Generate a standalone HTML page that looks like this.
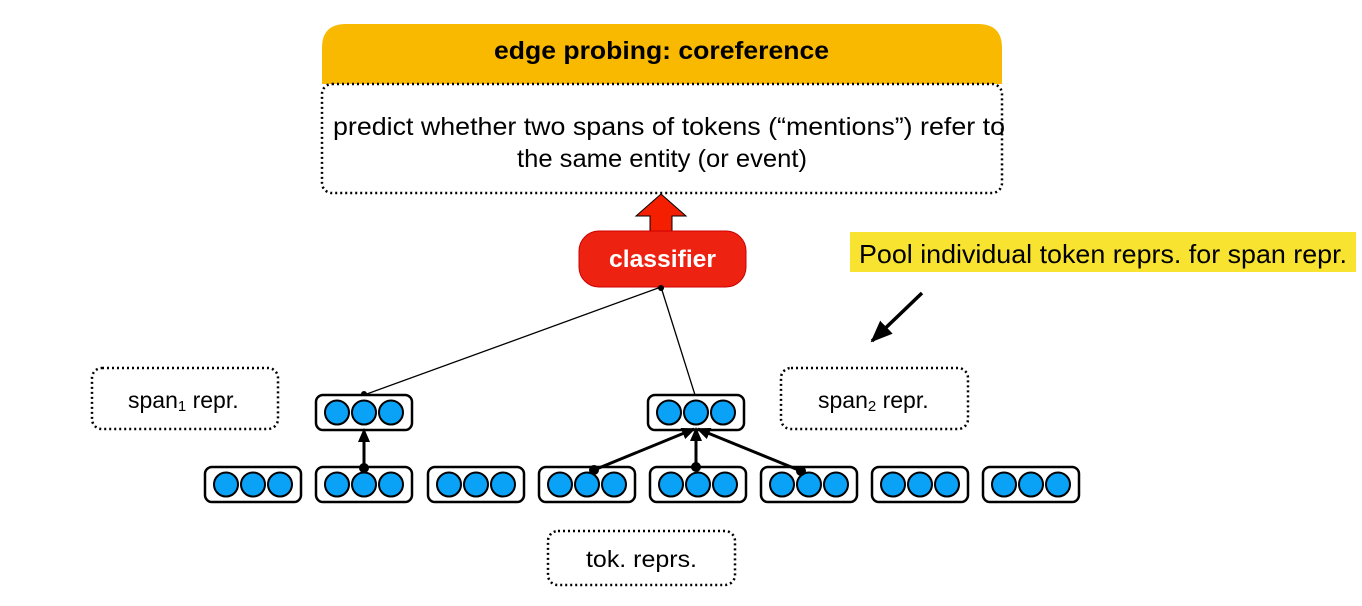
<!DOCTYPE html>
<html><head><meta charset="utf-8"><style>
body{margin:0;background:#fff;}
svg{display:block;font-family:"Liberation Sans",sans-serif;}
</style></head><body>
<svg width="1362" height="606" viewBox="0 0 1362 606" xmlns="http://www.w3.org/2000/svg">
<defs>
<marker id="ahb" markerWidth="14" markerHeight="12" refX="12" refY="6" orient="auto" markerUnits="userSpaceOnUse"><path d="M0,0 L14,6 L0,12 z" fill="#000"/></marker>
<marker id="ahc" markerWidth="22" markerHeight="18" refX="20" refY="9" orient="auto" markerUnits="userSpaceOnUse"><path d="M0,0 L22,9 L0,18 z" fill="#000"/></marker>
<g id="tok">
<rect x="0" y="0" width="96" height="35" rx="7" fill="#fff" stroke="#000" stroke-width="2.5"/>
<circle cx="21" cy="17.5" r="12" fill="#0aa2f7" stroke="#000" stroke-width="2"/>
<circle cx="48" cy="17.5" r="12" fill="#0aa2f7" stroke="#000" stroke-width="2"/>
<circle cx="75" cy="17.5" r="12" fill="#0aa2f7" stroke="#000" stroke-width="2"/>
</g>
</defs>
<path d="M322,84 L322,48 Q322,24 346,24 L978,24 Q1002,24 1002,48 L1002,84 Z" fill="#f8b900"/>
<rect x="322" y="84" width="680" height="109" rx="10" fill="#fff" stroke="#000" stroke-width="2.5" stroke-dasharray="2 3"/>
<text x="494" y="59" font-size="25" font-weight="bold" textLength="335" lengthAdjust="spacingAndGlyphs">edge probing: coreference</text>
<text x="333" y="135" font-size="25" textLength="672" lengthAdjust="spacingAndGlyphs">predict whether two spans of tokens (“mentions”) refer to</text>
<text x="517" y="167" font-size="25" textLength="290" lengthAdjust="spacingAndGlyphs">the same entity (or event)</text>
<path d="M661,194 L686,216 L672,216 L672,233 L650,233 L650,216 L636,216 Z" fill="#f31f00" stroke="#000" stroke-width="1"/>
<rect x="579" y="231" width="167" height="56" rx="20" fill="#ee2211" stroke="#c00" stroke-width="1"/>
<text x="609" y="267" font-size="24" font-weight="bold" fill="#fff" textLength="107" lengthAdjust="spacingAndGlyphs">classifier</text>
<rect x="850" y="232" width="506" height="40" fill="#f9e331"/>
<text x="859" y="263" font-size="26" textLength="488" lengthAdjust="spacingAndGlyphs">Pool individual token reprs. for span repr.</text>
<line x1="922" y1="293" x2="872" y2="341" stroke="#000" stroke-width="3.5" marker-end="url(#ahc)"/>
<rect x="92" y="368" width="186" height="61" rx="10" fill="none" stroke="#000" stroke-width="2.5" stroke-dasharray="2 3"/>
<text x="128" y="408" font-size="23">span<tspan font-size="15" dy="3">1</tspan><tspan dy="-3"> repr.</tspan></text>
<rect x="781" y="368" width="187" height="61" rx="10" fill="none" stroke="#000" stroke-width="2.5" stroke-dasharray="2 3"/>
<text x="818" y="408" font-size="23">span<tspan font-size="15" dy="3">2</tspan><tspan dy="-3"> repr.</tspan></text>
<rect x="548" y="531" width="187" height="54" rx="10" fill="none" stroke="#000" stroke-width="2.5" stroke-dasharray="2 3"/>
<text x="586" y="567" font-size="23" textLength="111" lengthAdjust="spacingAndGlyphs">tok. reprs.</text>
<line x1="661" y1="287" x2="364" y2="395" stroke="#000" stroke-width="1.3"/>
<line x1="661" y1="287" x2="695" y2="395" stroke="#000" stroke-width="1.3"/>
<circle cx="661" cy="288" r="3"/><circle cx="364" cy="394" r="3"/>
<use href="#tok" x="316" y="395"/>
<use href="#tok" x="648" y="395"/>
<use href="#tok" x="205" y="467"/>
<use href="#tok" x="316" y="467"/>
<use href="#tok" x="428" y="467"/>
<use href="#tok" x="539" y="467"/>
<use href="#tok" x="650" y="467"/>
<use href="#tok" x="761" y="467"/>
<use href="#tok" x="872" y="467"/>
<use href="#tok" x="983" y="467"/>
<line x1="364" y1="468" x2="364" y2="430" stroke="#000" stroke-width="3" marker-end="url(#ahb)"/>
<line x1="594" y1="470" x2="694" y2="429" stroke="#000" stroke-width="3" marker-end="url(#ahb)"/>
<line x1="696" y1="467" x2="696" y2="429" stroke="#000" stroke-width="3" marker-end="url(#ahb)"/>
<line x1="801" y1="471" x2="698" y2="429" stroke="#000" stroke-width="3" marker-end="url(#ahb)"/>
<circle cx="364" cy="468" r="5"/><circle cx="594" cy="470" r="5"/><circle cx="696" cy="467" r="5"/><circle cx="801" cy="471" r="5"/>
</svg>
</body></html>
